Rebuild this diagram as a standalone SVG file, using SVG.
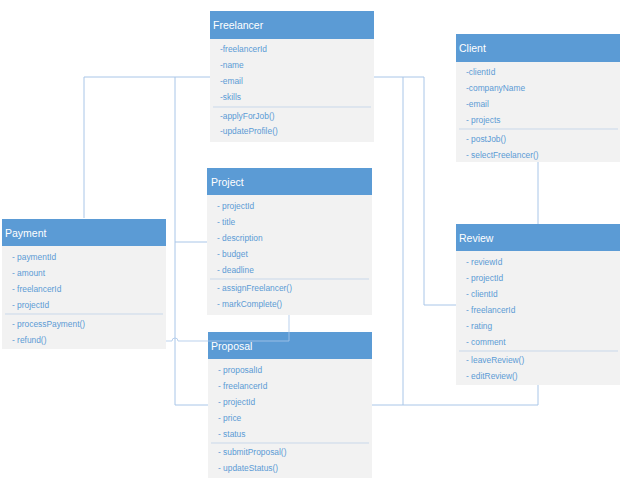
<svg xmlns="http://www.w3.org/2000/svg" width="624" height="484" viewBox="0 0 624 484">
  <style>
    .hdr { fill: #5b9bd5; }
    .body { fill: #f2f2f2; }
    .sep { stroke: #c9d8ea; stroke-width: 1; }
    .title { font-family: "Liberation Sans", Arial, sans-serif; font-size: 10.5px; fill: #ffffff; }
    .item { font-family: "Liberation Sans", Arial, sans-serif; font-size: 8.4px; fill: #5b9bd5; }
    .conn { fill: none; stroke: #a9c6e8; stroke-width: 1; }
  </style>

  <!-- associations between classes -->
  <g id="connectors">
    <path class="conn" d="M84 218 V77 H210"/>
    <path class="conn" d="M175 77 V405 H538 V385"/>
    <path class="conn" d="M175 242 H207"/>
    <path class="conn" d="M374 77 H424 V305 H456"/>
    <path class="conn" d="M403 77 V405"/>
    <path class="conn" d="M538 162 V224"/>
  </g>

  <!-- Freelancer -->
  <g id="freelancer">
    <rect class="body" x="210" y="11" width="164" height="131"/>
    <rect class="hdr" x="210" y="11" width="164" height="28"/>
    <text class="title" x="213" y="29">Freelancer</text>
    <text class="item" x="220" y="52">-freelancerId</text>
    <text class="item" x="220" y="68">-name</text>
    <text class="item" x="220" y="84">-email</text>
    <text class="item" x="220" y="100">-skills</text>
    <line class="sep" x1="213" y1="107" x2="371" y2="107"/>
    <text class="item" x="220" y="119">-applyForJob()</text>
    <text class="item" x="220" y="134">-updateProfile()</text>
  </g>

  <!-- Client -->
  <g id="client">
    <rect class="body" x="456" y="34" width="164" height="128"/>
    <rect class="hdr" x="456" y="34" width="164" height="28"/>
    <text class="title" x="459" y="52">Client</text>
    <text class="item" x="466" y="75">-clientId</text>
    <text class="item" x="466" y="91">-companyName</text>
    <text class="item" x="466" y="107">-email</text>
    <text class="item" x="466" y="123">- projects</text>
    <line class="sep" x1="459" y1="129" x2="618" y2="129"/>
    <text class="item" x="466" y="142">- postJob()</text>
    <text class="item" x="466" y="158">- selectFreelancer()</text>
  </g>

  <!-- Project -->
  <g id="project">
    <rect class="body" x="207" y="168" width="165" height="147"/>
    <rect class="hdr" x="207" y="168" width="165" height="27"/>
    <text class="title" x="211" y="186">Project</text>
    <text class="item" x="217" y="209">- projectId</text>
    <text class="item" x="217" y="225">- title</text>
    <text class="item" x="217" y="241">- description</text>
    <text class="item" x="217" y="257">- budget</text>
    <text class="item" x="217" y="273">- deadline</text>
    <line class="sep" x1="210" y1="279" x2="369" y2="279"/>
    <text class="item" x="217" y="291">- assignFreelancer()</text>
    <text class="item" x="217" y="307">- markComplete()</text>
  </g>

  <!-- Payment -->
  <g id="payment">
    <rect class="body" x="2" y="219" width="164" height="130"/>
    <rect class="hdr" x="2" y="219" width="164" height="27"/>
    <text class="title" x="5" y="237">Payment</text>
    <text class="item" x="12" y="260">- paymentId</text>
    <text class="item" x="12" y="276">- amount</text>
    <text class="item" x="12" y="292">- freelancerId</text>
    <text class="item" x="12" y="308">- projectId</text>
    <line class="sep" x1="5" y1="314" x2="163" y2="314"/>
    <text class="item" x="12" y="327">- processPayment()</text>
    <text class="item" x="12" y="343">- refund()</text>
  </g>

  <!-- Review -->
  <g id="review">
    <rect class="body" x="456" y="224" width="164" height="161"/>
    <rect class="hdr" x="456" y="224" width="164" height="27"/>
    <text class="title" x="459" y="242">Review</text>
    <text class="item" x="466" y="265">- reviewId</text>
    <text class="item" x="466" y="281">- projectId</text>
    <text class="item" x="466" y="297">- clientId</text>
    <text class="item" x="466" y="313">- freelancerId</text>
    <text class="item" x="466" y="329">- rating</text>
    <text class="item" x="466" y="345">- comment</text>
    <line class="sep" x1="459" y1="351" x2="618" y2="351"/>
    <text class="item" x="466" y="363">- leaveReview()</text>
    <text class="item" x="466" y="379">- editReview()</text>
  </g>

  <!-- Proposal -->
  <g id="proposal">
    <rect class="body" x="208" y="332" width="164" height="146"/>
    <rect class="hdr" x="208" y="332" width="164" height="27"/>
    <text class="title" x="211" y="350">Proposal</text>
    <text class="item" x="218" y="373">- proposalId</text>
    <text class="item" x="218" y="389">- freelancerId</text>
    <text class="item" x="218" y="405">- projectId</text>
    <text class="item" x="218" y="421">- price</text>
    <text class="item" x="218" y="437">- status</text>
    <line class="sep" x1="211" y1="443" x2="369" y2="443"/>
    <text class="item" x="218" y="455">- submitProposal()</text>
    <text class="item" x="218" y="471">- updateStatus()</text>
  </g>

  <!-- Project to Payment link, hopping over the vertical line -->
  <g id="connectors-front">
    <path class="conn" d="M289 315 V341 H178 A3 3 0 0 0 172 341 H166" opacity="0.8"/>
  </g>
</svg>
